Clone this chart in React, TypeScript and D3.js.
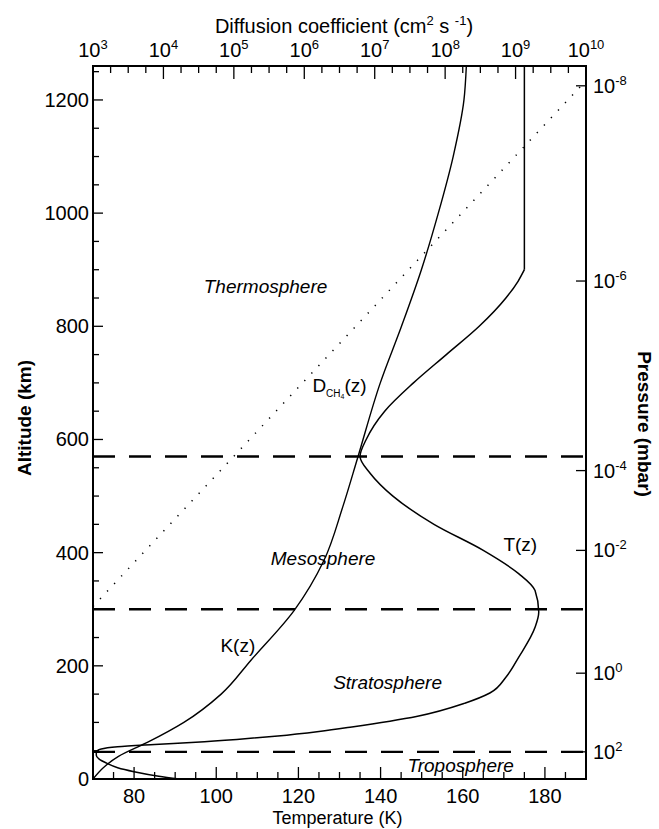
import React from 'react';
import * as d3 from 'd3';

// ---------- data ----------
const tempAltitudes = [0, 5, 13, 20, 28, 35, 42, 48, 53, 57, 61, 65, 70, 76, 84, 92, 111, 134, 152, 180, 215, 268, 295, 333, 363, 404, 450, 500, 540, 570, 600, 650, 700, 750, 800, 850, 880, 900];
const temperatures = [91, 86, 80, 76, 73.3, 71.5, 70.8, 70.8, 72, 76, 85, 95, 105, 115, 125, 133, 149, 160.5, 166.6, 170.5, 173.6, 177.6, 178.5, 177.6, 173.6, 165, 153, 143, 137.5, 135, 136.5, 141, 148, 156, 164, 170.5, 173.5, 175];
const thermoAltitudes = [900, 1260];
const thermoTemps = [175, 175];

const kAltitudes = [0, 20, 40, 65, 100, 150, 210, 298, 386, 480, 570, 700, 800, 900, 1000, 1100, 1200, 1260];
const kValues = [1.0e3, 1.4e3, 2.3e3, 6.0e3, 1.95e4, 6.6e4, 1.75e5, 7.2e5, 1.9e6, 3.5e6, 5.8e6, 1.2e7, 2.4e7, 4.6e7, 8.0e7, 1.3e8, 1.85e8, 2.0e8];

const dAltitudes = [305, 1228];
const dValues = [1.0e3, 9.0e9];

const boundaryAltitudes = [570, 300, 48];

const altitudeTicks = [0, 200, 400, 600, 800, 1000, 1200];
const temperatureTicks = [80, 100, 120, 140, 160, 180];
const diffusionExponents = [3, 4, 5, 6, 7, 8, 9, 10];
const pressureExponents = ['-8', '-6', '-4', '-2', '0', '2'];
const pressureTickAltitudes = [1225, 880, 545, 404, 187, 48];

// ---------- layout ----------
const W = 659, H = 829;
const L = 93, R = 586, T = 66, B = 779;
const FONT = 'Liberation Sans, Arial, Helvetica, sans-serif';

export default function App() {
  const x = d3.scaleLinear().domain([70, 190]).range([L, R]);
  const xD = d3.scaleLog().domain([1e3, 1e10]).range([L, R]);
  const y = d3.scaleLinear().domain([0, 1260]).range([B, T]);

  const tLine = d3.line<number>().x((d, i) => x(temperatures[i])).y((d) => y(d)).curve(d3.curveMonotoneY);
  const thermoLine = d3.line<number>().x((d, i) => x(thermoTemps[i])).y((d) => y(d));
  const kLine = d3.line<number>().x((d, i) => xD(kValues[i])).y((d) => y(d)).curve(d3.curveMonotoneY);
  const dLine = d3.line<number>().x((d, i) => xD(dValues[i])).y((d) => y(d));

  const altMinor = d3.range(0, 1251, 50);
  const tMinor = d3.range(70, 191, 5);
  const dMinor: number[] = [];
  for (let e = 3; e < 10; e += 1) for (const f of [0.25, 0.5, 0.75]) dMinor.push(Math.pow(10, e + f));

  return (
    <svg width={W} height={H} style={{ position: 'absolute', left: 0, top: 0, background: '#fff' }} fontFamily={FONT}>
      <rect x={0} y={0} width={W} height={H} fill="#fff" />
      {/* curves */}
      <path d={tLine(tempAltitudes) || ''} fill="none" stroke="#000" strokeWidth={1.5} />
      <path d={thermoLine(thermoAltitudes) || ''} fill="none" stroke="#000" strokeWidth={1.5} />
      <path d={kLine(kAltitudes) || ''} fill="none" stroke="#000" strokeWidth={1.4} />
      <path d={dLine(dAltitudes) || ''} fill="none" stroke="#000" strokeWidth={1.5} strokeDasharray="1.3,9" />
      {/* boundaries */}
      {boundaryAltitudes.map((a) => (
        <line key={a} x1={L} x2={R} y1={y(a)} y2={y(a)} stroke="#000" strokeWidth={2.4} strokeDasharray="22,14" />
      ))}
      {/* frame */}
      <rect x={L} y={T} width={R - L} height={B - T} fill="none" stroke="#000" strokeWidth={2} />
      {/* left axis ticks */}
      {altMinor.map((a) => (
        <line key={'am' + a} x1={L} x2={L + (a % 200 === 0 ? 10 : 6)} y1={y(a)} y2={y(a)} stroke="#000" strokeWidth={1.3} />
      ))}
      {altitudeTicks.map((a) => (
        <text key={'al' + a} x={L - 4} y={y(a)} dy="0.35em" textAnchor="end" fontSize={20}>{a}</text>
      ))}
      {/* bottom axis */}
      {tMinor.map((t) => (
        <line key={'tm' + t} x1={x(t)} x2={x(t)} y1={B} y2={B - (t % 20 === 0 ? 12 : 7)} stroke="#000" strokeWidth={1.3} />
      ))}
      {temperatureTicks.map((t) => (
        <text key={'tl' + t} x={x(t)} y={803} textAnchor="middle" fontSize={20}>{t}</text>
      ))}
      <text x={(L + R) / 2 - 2} y={824} textAnchor="middle" fontSize={18}>Temperature (K)</text>
      {/* top axis */}
      {dMinor.map((v, i) => (
        <line key={'dm' + i} x1={xD(v)} x2={xD(v)} y1={T} y2={T + 7} stroke="#000" strokeWidth={1.3} />
      ))}
      {diffusionExponents.map((e) => (
        <line key={'dM' + e} x1={xD(Math.pow(10, e))} x2={xD(Math.pow(10, e))} y1={T} y2={T + 13} stroke="#000" strokeWidth={1.3} />
      ))}
      {diffusionExponents.map((e) => (
        <text key={'dl' + e} x={xD(Math.pow(10, e))} y={57} textAnchor="middle" fontSize={20}>
          10<tspan dy={-8} fontSize={13}>{e}</tspan>
        </text>
      ))}
      <text x={344} y={33} textAnchor="middle" fontSize={20}>
        Diffusion coefficient (cm<tspan dy={-8} fontSize={13}>2</tspan>
        <tspan dy={8}> s </tspan>
        <tspan dy={-8} fontSize={13}>-1</tspan>
        <tspan dy={8}>)</tspan>
      </text>
      {/* right axis */}
      {pressureTickAltitudes.map((a, i) => (
        <g key={'p' + i}>
          <line x1={R} x2={R - 10} y1={y(a)} y2={y(a)} stroke="#000" strokeWidth={1.3} />
          <text x={R + 7} y={y(a)} dy="0.35em" fontSize={20}>
            10<tspan dy={-8} fontSize={13}>{pressureExponents[i]}</tspan>
          </text>
        </g>
      ))}
      {/* axis titles */}
      <text transform={`translate(31,418) rotate(-90)`} textAnchor="middle" fontSize={19} fontWeight="bold">Altitude (km)</text>
      <text transform={`translate(638,424) rotate(90)`} textAnchor="middle" fontSize={19} fontWeight="bold">Pressure (mbar)</text>
      {/* region labels */}
      <text x={x(112)} y={y(870)} dy="0.35em" textAnchor="middle" fontSize={19} fontStyle="italic">Thermosphere</text>
      <text x={x(126)} y={y(390)} dy="0.35em" textAnchor="middle" fontSize={19} fontStyle="italic">Mesosphere</text>
      <text x={x(141.7)} y={y(171)} dy="0.35em" textAnchor="middle" fontSize={19} fontStyle="italic">Stratosphere</text>
      <text x={x(159.5)} y={y(25)} dy="0.35em" textAnchor="middle" fontSize={19} fontStyle="italic">Troposphere</text>
      <text x={x(174)} y={y(415)} dy="0.35em" textAnchor="middle" fontSize={19}>T(z)</text>
      <text x={x(109.5)} y={y(237)} dy="0.35em" textAnchor="end" fontSize={19}>K(z)</text>
      <text x={x(130)} y={y(695)} dy="0.35em" textAnchor="middle" fontSize={19}>
        D<tspan dy={5} fontSize={10}>CH</tspan><tspan dy={2} fontSize={7}>4</tspan><tspan dy={-7}>(z)</tspan>
      </text>
    </svg>
  );
}
